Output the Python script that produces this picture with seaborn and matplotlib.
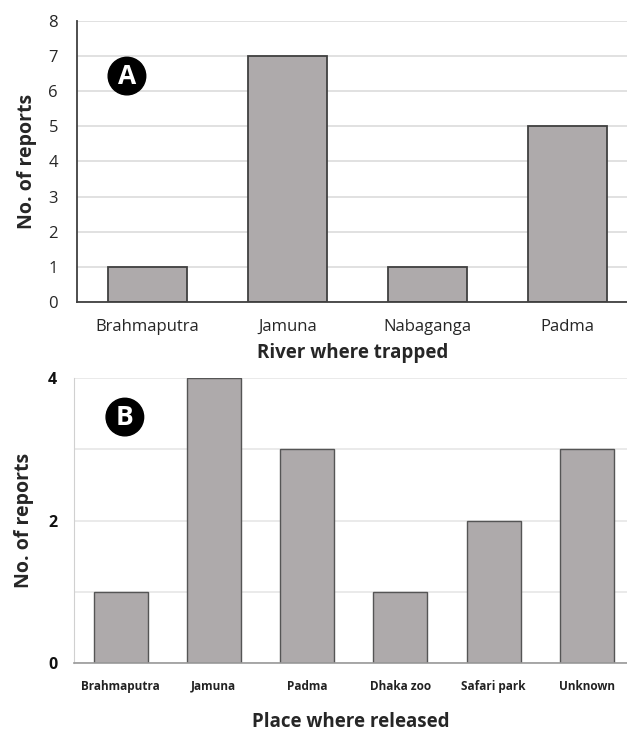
import matplotlib
matplotlib.use("Agg")
import matplotlib.pyplot as plt
import seaborn as sns
import pandas as pd

rivers = ["Brahmaputra", "Jamuna", "Nabaganga", "Padma"]
river_counts = [1, 7, 1, 5]
places = ["Brahmaputra", "Jamuna", "Padma", "Dhaka zoo", "Safari park", "Unknown"]
place_counts = [1, 4, 3, 1, 2, 3]
yticks_a = [0, 1, 2, 3, 4, 5, 6, 7, 8]
yticks_b = [0, 2, 4]

sns.set_style("white")
plt.rcParams['font.family'] = ['Open Sans', 'DejaVu Sans']

BAR = "#aeaaab"
EDGE = "#404040"
GRID = "#dcdcdc"

fig = plt.figure(figsize=(6.27, 7.31), dpi=100)

# Panel A
axA = fig.add_axes([0.1236, 0.5869, 0.8764, 0.3844])
dfA = pd.DataFrame({"river": rivers, "n": river_counts})
sns.barplot(data=dfA, x="river", y="n", ax=axA, color=BAR, width=0.57,
            edgecolor=EDGE, linewidth=1.3, saturation=1)
axA.set_ylim(0, 8)
axA.set_xlim(-0.5, 3.425)
axA.set_yticks(yticks_a)
axA.set_axisbelow(True)
axA.yaxis.grid(True, color=GRID, linewidth=1.2)
for s in ["top", "right"]:
    axA.spines[s].set_visible(False)
axA.spines["left"].set_color("#404040")
axA.spines["bottom"].set_color("#404040")
axA.spines["left"].set_linewidth(1.3)
axA.spines["bottom"].set_linewidth(1.3)
axA.tick_params(axis="y", labelsize=12, labelcolor="#262626", length=0, pad=14)
axA.tick_params(axis="x", labelsize=12, labelcolor="#262626", length=0, pad=12)
axA.set_xlabel("River where trapped", fontsize=13.5, fontweight="bold", labelpad=6)
axA.set_ylabel("No. of reports", fontsize=14, fontweight="bold", labelpad=8)
axA.text(0.09, 0.804, "A", transform=axA.transAxes, ha="center", va="center",
         fontsize=19, fontweight="bold", color="white",
         bbox=dict(boxstyle="circle,pad=0.2", fc="black", ec="black"))

# Panel B
axB = fig.add_axes([0.118, 0.093, 0.882, 0.3899])
dfB = pd.DataFrame({"place": places, "n": place_counts})
sns.barplot(data=dfB, x="place", y="n", ax=axB, color=BAR, width=0.58,
            edgecolor="#555555", linewidth=1.0, saturation=1)
axB.set_ylim(0, 4)
axB.set_xlim(-0.5, 5.43)
axB.set_yticks(yticks_b)
axB.set_yticks([1, 3], minor=True)
axB.set_axisbelow(True)
axB.yaxis.grid(True, which="both", color="#e6e6e6", linewidth=1.2)
for s in ["top", "right"]:
    axB.spines[s].set_visible(False)
axB.spines["left"].set_color("#d0d0d0")
axB.spines["bottom"].set_color("#999999")
axB.spines["bottom"].set_linewidth(1.2)
axB.tick_params(axis="y", which="both", labelsize=11.5, labelcolor="#111111", length=0, pad=12)
axB.tick_params(axis="x", labelsize=8.5, labelcolor="#222222", length=0, pad=12)
for t in axB.get_xticklabels() + axB.get_yticklabels():
    t.set_fontweight("bold")
axB.set_xlabel("Place where released", fontsize=13.5, fontweight="bold", labelpad=14)
axB.set_ylabel("No. of reports", fontsize=14, fontweight="bold", labelpad=10)
axB.text(0.092, 0.863, "B", transform=axB.transAxes, ha="center", va="center",
         fontsize=19, fontweight="bold", color="white",
         bbox=dict(boxstyle="circle,pad=0.2", fc="black", ec="black"))

fig.savefig("out.png", dpi=100)
